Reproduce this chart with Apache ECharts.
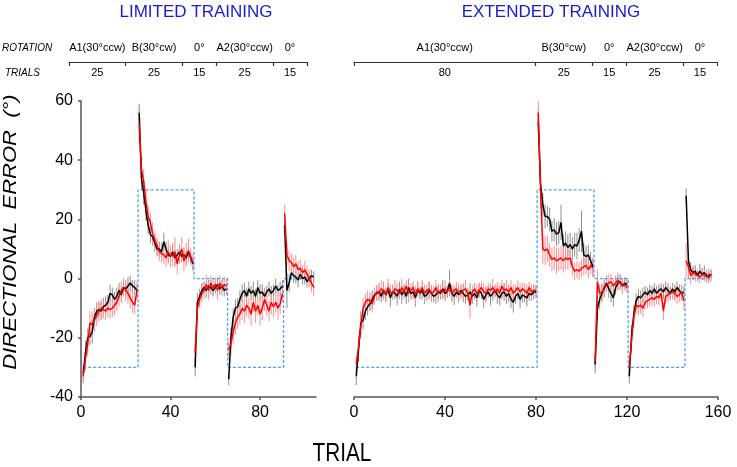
<!DOCTYPE html>
<html>
<head>
<meta charset="utf-8">
<script src="https://cdn.jsdelivr.net/npm/echarts@6/dist/echarts.min.js"></script>
<style>
  html, body { margin: 0; padding: 0; background: #fff; }
  #chart { width: 737px; height: 467px; }
</style>
</head>
<body>
<div id="chart"></div>
<script>
// block layout (trials per block) and imposed rotation per block
const rotationLabels = ['A1(30°ccw)', 'B(30°cw)', '0°', 'A2(30°ccw)', '0°'];
const rotationDeg = [-30, 30, 0, -30, 0];
const limitedTrials = [25, 25, 15, 25, 15];
const extendedTrials = [80, 25, 15, 25, 15];

// LIMITED TRAINING - mean directional error, trial 1..104
const limBlack = [
  -32, -25, -20, -19.5, -18, -13, -11, -10.5, -11, -9.5, -9, -8, -5, -5.5, -7, -6, -4, -5.5, -3, -3.5, -2.5, -1.5, -2.5, -3, -4,
  56, 34, 29, 23, 18, 15, 14, 12, 10, 10, 9, 12.5, 10, 8, 7.5, 9, 7, 8, 9, 7.5, 8, 7, 9, 7, 5,
  -30, -8, -6, -4, -3, -4, -2.5, -3, -4, -3, -2, -3.5, -2.5, -4, -3.5,
  -34, -20, -13, -10, -9.5, -7, -5, -4, -6, -3.5, -5, -4, -6, -3, -5, -4.5, -6, -4.5, -3.5, -5, -4, -2.5, -4, -3.5, -2.5,
  18, -4, -1.5, 2, 1, 0.5, -0.5, 1.5, 0, 0.5, -1, 0, 1, 0.5
];
const limRed = [
  -33, -27, -22, -15, -15.5, -14, -12.5, -11, -10, -10.5, -11, -10, -10.5, -10, -9, -8, -6, -4, -3, -4, -5, -6.5, -8, -9, -4,
  52, 37, 33, 26, 21, 19, 15, 13, 11, 9, 8.5, 8, 7, 9, 7.5, 8, 9, 5, 8, 10, 6, 8, 9.5, 7.5, 5.5,
  -25, -10, -7, -5, -4, -2, -4, -1.5, -3, -2, -4, -1.5, -3, -2, -2.5,
  -24, -22, -18, -15, -13, -12, -10, -11, -9, -10, -12, -8, -11, -9, -12, -10, -7, -9, -11, -8, -9.5, -8, -10, -8.5, -5,
  22, 8, 6, 5.5, 4, 5, 3, 3.5, 2, 3, 1.5, 0, -1.5, -3
];
const limBlackErr = [
  3, 4, 3, 3, 4, 3, 3, 2.5, 3, 3, 3, 2.5, 3, 2.5, 2.5, 3, 2.5, 2.5, 3, 2.5, 3, 2.5, 2, 2.5, 2,
  3, 4, 4, 3.5, 3, 3, 3, 3, 2.5, 2.5, 3, 3, 2.5, 2.5, 2, 2.5, 2.5, 2, 2.5, 2, 2.5, 2, 2.5, 2, 2,
  3, 3, 2.5, 2.5, 2, 2.5, 2, 2.5, 2, 2, 2.5, 2, 2, 2, 2,
  2, 3.5, 3, 3, 3, 3, 3, 2.5, 3, 2.5, 2.5, 3, 2.5, 2.5, 3, 2.5, 2.5, 2, 2.5, 2.5, 2, 2.5, 2, 2.5, 2,
  2.5, 6, 3, 2.5, 2.5, 2, 2.5, 2, 2, 2.5, 2, 2, 2, 2
];
const limRedErr = [
  2.5, 4, 4, 4, 4.5, 4, 3.5, 3.5, 3, 3, 3, 3, 3, 3, 3.5, 3, 3.5, 3, 3, 3.5, 3.5, 3.5, 3.5, 3, 3,
  6, 4, 4, 4, 4, 3.5, 4, 3, 3, 3, 3, 3, 3, 4, 3.5, 4, 5, 3.5, 3, 4, 3.5, 4, 4, 3, 3,
  3, 4, 3, 3, 3, 3.5, 3, 2.5, 3, 2.5, 3, 2.5, 3, 2.5, 2.5,
  3, 4, 4, 4, 4, 3.5, 4, 4, 4, 3.5, 4, 3.5, 4, 3.5, 4, 4, 4, 3.5, 3.5, 4, 3.5, 3.5, 4, 3.5, 3,
  3, 4, 3.5, 3, 3, 3, 3, 3, 2.5, 3, 3, 3, 3, 3
];

// EXTENDED TRAINING - mean directional error, trial 1..157
const extBlack = [
  -33, -24, -15, -14, -11, -9.5, -8.5, -7, -5.5,
  -5, -4.5, -6, -4, -5.5, -3.5, -6.5, -4.5, -5, -6,
  -3.5, -5.5, -4, -6, -3, -5, -4.5, -6.5, -3.5, -5,
  -4, -6, -5.5, -4, -5, -6, -5.5, -4.5, -5, -3.5,
  -5, -4.5, -1.5, -5, -6, -4.5, -5.5, -4, -5, -6,
  -5.5, -4.5, -6, -5, -6.5, -4, -5, -7, -5.5, -4.5,
  -6, -5, -4, -5.5, -6.5, -5, -4.5, -6, -5, -7,
  -8, -6, -5, -7, -5.5, -6, -6.5, -5, -5.5, -4.5,
  -4.5,
  53, 32, 25, 21, 21, 20, 16, 16.5, 15, 15.5, 19, 11, 12, 10.5, 11.5, 10, 11.5, 11, 13, 16, 8, 7.5, 8, 6, 4,
  -29, -10, -7, -5, -3, -1.5, -3.5, -5, -6.5, -3, -1.5, -1, -2.5, -1.5, -2,
  -33, -19, -12, -7.5, -6, -6.5, -5.5, -4.5, -5.5, -4, -5, -3.5, -5, -4, -3.5, -4.5, -3, -4, -5, -3.5, -4.5, -3, -4, -5, -4.5,
  28, 6, 3, 2, 2.5, 1, 2.5, 1.5, 2, 1, 0.5, 1.5
];
const extRed = [
  -29, -23, -16, -10, -8, -7, -7.5, -8.5, -6,
  -4.5, -5, -3.5, -4, -5.5, -3, -4.5, -5, -3.5, -4,
  -5, -3, -4.5, -2.5, -5, -4, -3, -5.5, -3.5, -4.5,
  -3, -5, -4, -3.5, -5, -4.5, -3, -5, -4, -4.5,
  -3.5, -4.5, -3, -5, -4, -3.5, -4.5, -5, -4, -3.5,
  -5, -9, -4.5, -3.5, -5, -4, -3, -4.5, -5, -3.5,
  -4, -3, -4.5, -3.5, -5, -2.5, -4, -3.5, -4.5, -3,
  -5, -4, -3, -4.5, -3.5, -4, -5, -3, -4.5, -4,
  -4,
  56, 30, 10, 9.5, 10, 8, 6.5, 7, 6, 6.5, 7, 6, 7, 6.5, 7, 4, 2.5, 3, 2.5, 3.5, 4, 4.5, 3, 4.5, 3.5,
  -28, -1, -5, -4.5, -3.5, -2, -1.5, -1, -2.5, -1.5, -0.5, -1.5, -2.5, -2, -3,
  -30, -21, -13, -9, -9.5, -9, -10, -8, -7.5, -7, -6.5, -7, -6, -6.5, -5, -11, -6, -5.5, -5, -4.5, -5, -6, -5.5, -4.5, -7.5,
  6, 4, 1, 2, 1.5, 1, 0.5, 1.5, 1, 0.5, 1.5, 1
];
const extBlackErr = [
  3, 4, 4, 3, 3, 3, 2.5, 3, 2.5,
  2.5, 3, 2, 3, 2.5, 2, 3, 2.5, 2, 3,
  2.5, 3, 2, 2.5, 3, 2, 2.5, 3, 2.5, 2,
  3, 2.5, 2, 3, 2.5, 2, 3, 2.5, 2, 3,
  2.5, 2, 4.5, 2.5, 3, 2, 2.5, 2, 3, 2.5,
  2, 3, 2.5, 2, 3, 2.5, 2, 3, 2.5, 2,
  3, 2.5, 2, 3, 2.5, 2, 3, 2.5, 3, 3,
  3.5, 2.5, 2, 3, 2.5, 2, 3, 2.5, 2, 2.5,
  2,
  4, 5, 4, 4, 3.5, 4, 3.5, 4, 4, 4, 6, 4, 4, 4.5, 4, 4, 4, 4.5, 4, 7, 4, 3.5, 3.5, 3, 3,
  3, 4, 3.5, 3, 3, 2.5, 3, 3, 3, 2.5, 2.5, 2.5, 2.5, 2, 2,
  2.5, 3.5, 3, 2.5, 2.5, 2.5, 2.5, 2, 2.5, 2, 2.5, 2, 2.5, 2, 2, 2.5, 2, 2.5, 2, 2, 2.5, 2, 2, 2.5, 2,
  2.5, 3, 2.5, 2, 2, 2, 2.5, 2, 2.5, 2, 2, 1.5
];
const extRedErr = [
  2.5, 4, 4, 3.5, 3, 3, 3, 3, 3,
  2.5, 2, 3, 2.5, 2, 3, 2.5, 2, 3, 2.5,
  2, 3, 2.5, 2, 3, 2.5, 2, 3, 2.5, 2,
  2.5, 3, 2, 2.5, 3, 2, 2.5, 3, 2, 2.5,
  3, 2, 2.5, 3, 2, 2.5, 3, 2, 2.5, 3,
  2, 4.5, 2.5, 2, 3, 2.5, 2, 3, 2.5, 2,
  2.5, 3, 2, 2.5, 3, 2, 2.5, 3, 2, 2.5,
  3, 2, 2.5, 3, 2, 2.5, 3, 2, 2.5, 2,
  2,
  4, 6, 5, 5, 4.5, 4, 4, 4, 4.5, 4, 4, 4, 4, 3.5, 3.5, 3, 3, 3, 3, 3, 3, 3, 3, 3, 3,
  2.5, 4, 3, 3, 3, 2.5, 3, 2.5, 2.5, 2.5, 2.5, 2.5, 2.5, 2, 2,
  3, 4, 3.5, 3, 3, 3, 3, 2.5, 2.5, 2.5, 2.5, 2.5, 2.5, 2.5, 2.5, 3, 2.5, 2.5, 2.5, 2.5, 2.5, 2.5, 2.5, 2.5, 3,
  6, 4, 3, 2.5, 2.5, 2, 2, 2, 2, 2, 2, 2
];

const FONT = '"Liberation Sans", Arial, sans-serif';

function blockEnds(segs) {
  const ends = [];
  let s = 0;
  segs.forEach(n => { s += n; ends.push(s); });
  return ends;
}

// line data, broken between blocks
function lineData(vals, segs) {
  const ends = blockEnds(segs);
  const out = [];
  vals.forEach((v, i) => {
    const t = i + 1;
    if (ends.indexOf(t - 1) >= 0) out.push([t - 0.5, '-']);
    out.push([t, v]);
  });
  return out;
}

function errData(vals, errs) {
  return vals.map((v, i) => [i + 1, v, errs[i]]);
}

// imposed rotation as a step line
function stepData(segs, lastTrial) {
  const ends = blockEnds(segs);
  const out = [[1, rotationDeg[0]]];
  for (let k = 0; k < segs.length - 1; k++) {
    out.push([ends[k] + 0.5, rotationDeg[k]]);
    out.push([ends[k] + 0.5, rotationDeg[k + 1]]);
  }
  out.push([lastTrial, rotationDeg[segs.length - 1]]);
  return out;
}

function mids(segs) {
  const out = [];
  let s = 0;
  segs.forEach(n => { out.push(s + n / 2); s += n; });
  return out;
}

function errSeries(idx, vals, errs, color) {
  return {
    type: 'custom',
    xAxisIndex: idx, yAxisIndex: idx,
    data: errData(vals, errs),
    encode: { x: 0, y: 1 },
    silent: true,
    renderItem: function (params, api) {
      const x = api.value(0), y = api.value(1), e = api.value(2);
      const p1 = api.coord([x, y - e]);
      const p2 = api.coord([x, y + e]);
      return {
        type: 'line',
        shape: { x1: p1[0], y1: p1[1], x2: p2[0], y2: p2[1] },
        style: { stroke: color, lineWidth: 1 }
      };
    }
  };
}

function meanSeries(idx, vals, segs, color) {
  return {
    type: 'line',
    xAxisIndex: idx, yAxisIndex: idx,
    data: lineData(vals, segs),
    showSymbol: false,
    symbol: 'none',
    connectNulls: false,
    lineStyle: { color: color, width: 1.5 },
    silent: true
  };
}

function stepSeries(idx, segs, lastTrial) {
  return {
    type: 'line',
    xAxisIndex: idx, yAxisIndex: idx,
    data: stepData(segs, lastTrial),
    symbol: 'none',
    lineStyle: { color: '#4d9ef5', width: 1.3, type: [3, 2] },
    silent: true
  };
}

function bracketAxes(grid, segs) {
  const ends = [0].concat(blockEnds(segs));
  const total = ends[ends.length - 1];
  const m = mids(segs);
  return [
    {
      type: 'value', gridIndex: grid, position: 'top', min: 0, max: total,
      axisLine: { show: false, onZero: false }, axisTick: { show: false }, splitLine: { show: false },
      axisLabel: {
        customValues: m, margin: 8, color: '#000', fontSize: 11, fontFamily: FONT,
        formatter: v => rotationLabels[m.indexOf(v)]
      }
    },
    {
      type: 'value', gridIndex: grid, position: 'bottom', min: 0, max: total,
      axisLine: { show: true, onZero: false, lineStyle: { color: '#333', width: 1.2 } },
      axisTick: { show: true, customValues: ends, length: 4, lineStyle: { color: '#333', width: 1.2 } },
      splitLine: { show: false },
      axisLabel: {
        customValues: m, margin: 5, color: '#000', fontSize: 11, fontFamily: FONT,
        formatter: v => String(segs[m.indexOf(v)])
      }
    }
  ];
}

const axisLineStyle = { color: '#555', width: 1.5 };
const tickLabel = { color: '#000', fontSize: 16, fontFamily: FONT, margin: 8, hideOverlap: false };

const chart = echarts.init(document.getElementById('chart'));

const option = {
  backgroundColor: '#fff',
  animation: false,
  grid: [
    { left: 81, top: 101, width: 235, height: 296 },
    { left: 354, top: 101, width: 364, height: 296 },
    { left: 69, top: 61, width: 238, height: 1 },
    { left: 354, top: 61, width: 363, height: 1 }
  ],
  xAxis: [
    {
      type: 'value', gridIndex: 0, min: 0, max: 105, interval: 40,
      axisLine: { show: true, onZero: false, lineStyle: axisLineStyle },
      axisTick: { show: true, length: 3, lineStyle: axisLineStyle },
      splitLine: { show: false },
      axisLabel: Object.assign({ showMaxLabel: false }, tickLabel)
    },
    {
      type: 'value', gridIndex: 1, min: 0, max: 160, interval: 40,
      axisLine: { show: true, onZero: false, lineStyle: axisLineStyle },
      axisTick: { show: true, length: 3, lineStyle: axisLineStyle },
      splitLine: { show: false },
      axisLabel: tickLabel
    }
  ].concat(bracketAxes(2, limitedTrials), bracketAxes(3, extendedTrials)),
  yAxis: [
    {
      type: 'value', gridIndex: 0, min: -40, max: 60, interval: 20,
      axisLine: { show: true, onZero: false, lineStyle: axisLineStyle },
      axisTick: { show: true, length: 3, lineStyle: axisLineStyle },
      splitLine: { show: false },
      axisLabel: tickLabel
    },
    { type: 'value', gridIndex: 1, min: -40, max: 60, show: false, axisLine: { onZero: false }, splitLine: { show: false } },
    { type: 'value', gridIndex: 2, min: 0, max: 1, show: false, axisLine: { onZero: false } },
    { type: 'value', gridIndex: 3, min: 0, max: 1, show: false, axisLine: { onZero: false } }
  ],
  series: [
    stepSeries(0, limitedTrials, 104),
    errSeries(0, limBlack, limBlackErr, '#8f8f8f'),
    meanSeries(0, limBlack, limitedTrials, '#000'),
    errSeries(0, limRed, limRedErr, '#ff8f8f'),
    meanSeries(0, limRed, limitedTrials, '#ff0000'),
    stepSeries(1, extendedTrials, 157),
    errSeries(1, extBlack, extBlackErr, '#8f8f8f'),
    meanSeries(1, extBlack, extendedTrials, '#000'),
    errSeries(1, extRed, extRedErr, '#ff8f8f'),
    meanSeries(1, extRed, extendedTrials, '#ff0000')
  ],
  graphic: [
    { type: 'text', x: 196, y: 12, style: { text: 'LIMITED TRAINING', font: '17px ' + FONT, fill: '#1a1ad2', align: 'center', verticalAlign: 'middle' } },
    { type: 'text', x: 551, y: 12, style: { text: 'EXTENDED TRAINING', font: '17px ' + FONT, fill: '#1a1ad2', align: 'center', verticalAlign: 'middle' } },
    { type: 'text', x: 2, y: 48, style: { text: 'ROTATION', font: 'italic 10px ' + FONT, fill: '#000', align: 'left', verticalAlign: 'middle' } },
    { type: 'text', x: 5, y: 73, style: { text: 'TRIALS', font: 'italic 10px ' + FONT, fill: '#000', align: 'left', verticalAlign: 'middle' } },
    { type: 'text', x: 342, y: 454, scaleX: 0.83, style: { text: 'TRIAL', font: '25px ' + FONT, fill: '#000', align: 'center', verticalAlign: 'middle' } },
    { type: 'text', x: 11, y: 232, rotation: Math.PI / 2, scaleY: 0.83, style: { text: 'DIRECTIONAL  ERROR  (°)', font: 'italic 22px ' + FONT, fill: '#000', align: 'center', verticalAlign: 'middle' } }
  ]
};

chart.setOption(option);
</script>
</body>
</html>
